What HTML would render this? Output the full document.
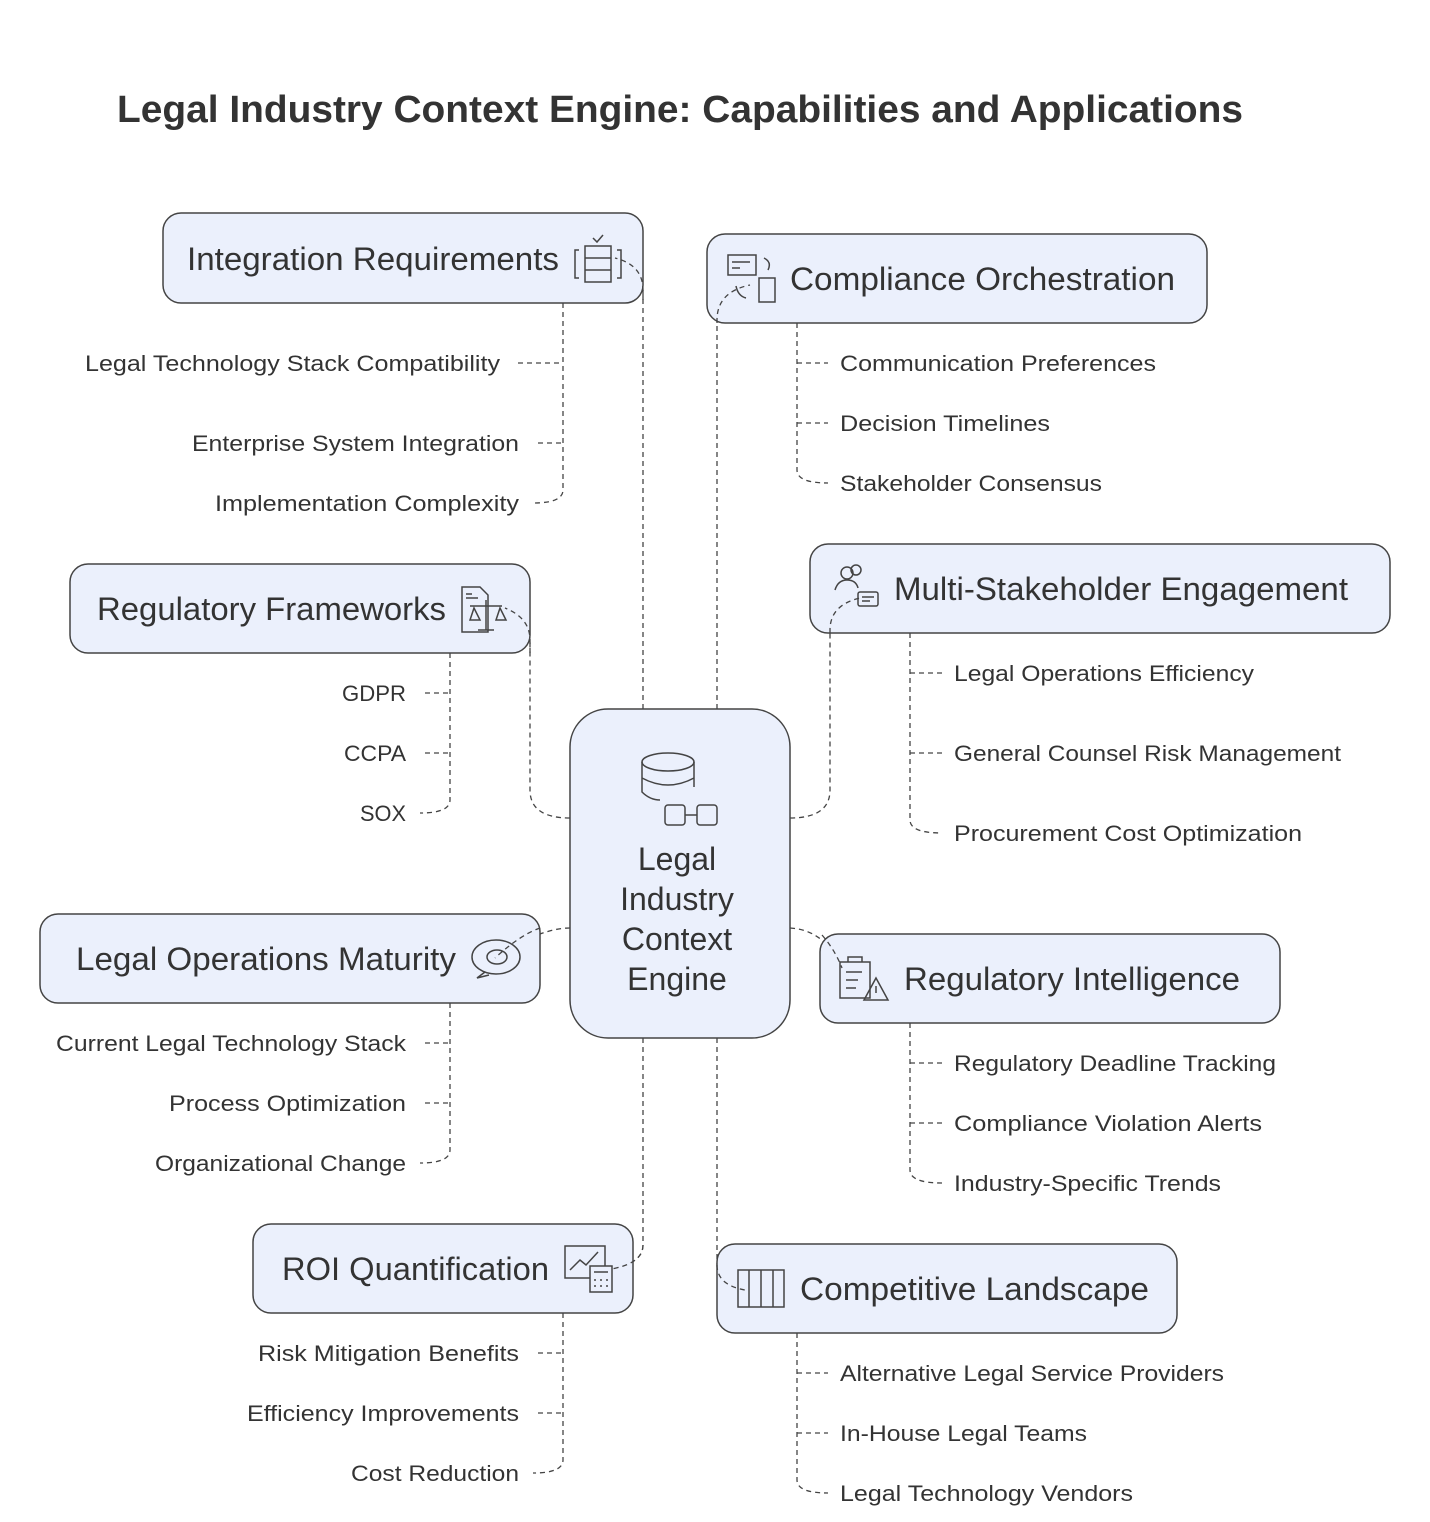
<!DOCTYPE html>
<html><head><meta charset="utf-8"><style>
body{margin:0;background:#fff}
svg{display:block}
text{font-family:"Liberation Sans",sans-serif;fill:#333}
.n{fill:#ebf0fc;stroke:#444;stroke-width:1.5}
.d{fill:none;stroke:#444;stroke-width:1.3;stroke-dasharray:5 4}
.i{fill:none;stroke:#444;stroke-width:1.5}
.t{font-size:32px}
.s{font-size:22px}
</style></head><body>
<svg width="1430" height="1522" viewBox="0 0 1430 1522">
<text x="117" y="122" font-size="38" font-weight="bold" textLength="1126" lengthAdjust="spacingAndGlyphs" style="fill:#333">Legal Industry Context Engine: Capabilities and Applications</text>

<path class="d" d="M643 709 V290 Q643 265 615 258"/>
<path class="d" d="M717 709 V320 Q717 292 750 285"/>
<path class="d" d="M790 818 Q830 818 830 790 V630 Q830 605 860 598"/>
<path class="d" d="M570 818 Q530 818 530 790 V640 Q530 618 505 608"/>
<path class="d" d="M570 928 Q540 928 495 958"/>
<path class="d" d="M790 928 Q825 930 842 968"/>
<path class="d" d="M643 1038 V1245 Q643 1265 605 1270"/>
<path class="d" d="M717 1038 V1265 Q717 1285 745 1290"/>

<path class="d" d="M563 303 V490 Q563 503 533 503 M518 363 H563 M538 443 H563"/>
<path class="d" d="M797 323 V470 Q797 483 828 483 M797 363 H828 M797 423 H828"/>
<path class="d" d="M450 653 V800 Q450 813 420 813 M425 693 H450 M425 753 H450"/>
<path class="d" d="M910 633 V820 Q910 833 942 833 M910 673 H942 M910 753 H942"/>
<path class="d" d="M450 1003 V1150 Q450 1163 420 1163 M425 1043 H450 M425 1103 H450"/>
<path class="d" d="M910 1023 V1170 Q910 1183 942 1183 M910 1063 H942 M910 1123 H942"/>
<path class="d" d="M563 1313 V1460 Q563 1473 533 1473 M538 1353 H563 M538 1413 H563"/>
<path class="d" d="M797 1333 V1480 Q797 1493 828 1493 M797 1373 H828 M797 1433 H828"/>

<rect class="n" x="163" y="213" width="480" height="90" rx="18"/>
<rect class="n" x="707" y="234" width="500" height="89" rx="18"/>
<rect class="n" x="70" y="564" width="460" height="89" rx="18"/>
<rect class="n" x="810" y="544" width="580" height="89" rx="18"/>
<rect class="n" x="40" y="914" width="500" height="89" rx="18"/>
<rect class="n" x="820" y="934" width="460" height="89" rx="18"/>
<rect class="n" x="253" y="1224" width="380" height="89" rx="18"/>
<rect class="n" x="717" y="1244" width="460" height="89" rx="18"/>
<rect class="n" x="570" y="709" width="220" height="329" rx="38"/>

<path class="d" d="M643 300 V290 Q643 265 615 258"/>
<path class="d" d="M717 323 V320 Q717 292 750 285"/>
<path class="d" d="M830 633 V630 Q830 605 860 598"/>
<path class="d" d="M530 653 V640 Q530 618 505 608"/>
<path class="d" d="M540 928 Q520 935 495 958"/>
<path class="d" d="M822 935 Q835 950 842 968"/>
<path class="d" d="M643 1245 Q643 1265 605 1270"/>
<path class="d" d="M717 1265 Q717 1285 745 1290"/>

<g class="t" lengthAdjust="spacingAndGlyphs">
<text x="187" y="270" textLength="372" lengthAdjust="spacingAndGlyphs">Integration Requirements</text>
<text x="790" y="290" textLength="385" lengthAdjust="spacingAndGlyphs">Compliance Orchestration</text>
<text x="97" y="620" textLength="349" lengthAdjust="spacingAndGlyphs">Regulatory Frameworks</text>
<text x="894" y="600" textLength="454" lengthAdjust="spacingAndGlyphs">Multi-Stakeholder Engagement</text>
<text x="76" y="970" textLength="380" lengthAdjust="spacingAndGlyphs">Legal Operations Maturity</text>
<text x="904" y="990" textLength="336" lengthAdjust="spacingAndGlyphs">Regulatory Intelligence</text>
<text x="282" y="1280" textLength="267" lengthAdjust="spacingAndGlyphs">ROI Quantification</text>
<text x="800" y="1300" textLength="349" lengthAdjust="spacingAndGlyphs">Competitive Landscape</text>
</g>
<g class="t" text-anchor="middle">
<text x="677" y="870">Legal</text>
<text x="677" y="910">Industry</text>
<text x="677" y="950">Context</text>
<text x="677" y="990">Engine</text>
</g>

<g class="i">
<ellipse cx="668" cy="762" rx="26" ry="9"/>
<path d="M642 762 V792 Q650 800 660 800 M694 762 V787"/>
<path d="M642 778 Q668 792 694 778"/>
<rect x="665" y="805" width="20" height="20" rx="3"/><rect x="697" y="805" width="20" height="20" rx="3"/><path d="M685 815 H697"/>
<rect x="585" y="246" width="26" height="36"/><path d="M585 258 H611 M585 270 H611 M579 250 H575 V278 H579 M617 250 H621 V278 H617 M593 238 L597 242 L603 235"/>
<rect x="728" y="255" width="28" height="20"/><path d="M732 262 H750 M732 268 H740"/><rect x="759" y="278" width="16" height="24"/><path d="M768 270 Q772 262 764 258 M736 286 Q738 296 746 298"/>
<path d="M462 587 H480 L488 595 V632 H462 Z M466 594 H472 M466 598 H478 M470 606 H502 M486 600 V630 M478 630 H494"/>
<path d="M474 608 L470 620 H480 Z M500 608 L496 620 H506 Z"/>
<circle cx="847" cy="573" r="6"/><path d="M835 590 Q838 580 847 580 Q856 580 858 588"/><circle cx="856" cy="570" r="5"/><rect x="858" y="592" width="20" height="14" rx="2"/><path d="M862 597 H874 M862 601 H870"/>
<ellipse cx="496" cy="957" rx="24" ry="17"/><path d="M485 972 L477 978 L489 975"/><ellipse cx="497" cy="957" rx="10" ry="7"/>
<rect x="840" y="962" width="30" height="36"/><path d="M848 962 V957 H862 V962 M846 972 H862 M846 980 H858 M846 988 H856"/><path d="M876 978 L888 1000 H864 Z M876 986 V993"/>
<rect x="565" y="1246" width="40" height="32"/><path d="M570 1270 L580 1260 L586 1265 L598 1252"/><rect x="590" y="1266" width="22" height="26" fill="#ebf0fc"/><path d="M594 1272 H608 M594 1280 H596 M600 1280 H602 M606 1280 H608 M594 1286 H596 M600 1286 H602 M606 1286 H608"/>
<path d="M738 1270 H784 V1307 H738 Z M749 1270 V1307 M761 1270 V1307 M773 1270 V1307"/>
</g>

<g class="s" text-anchor="end">
<text x="500" y="371" textLength="415" lengthAdjust="spacingAndGlyphs">Legal Technology Stack Compatibility</text>
<text x="519" y="451" textLength="327" lengthAdjust="spacingAndGlyphs">Enterprise System Integration</text>
<text x="519" y="511" textLength="304" lengthAdjust="spacingAndGlyphs">Implementation Complexity</text>
<text x="406" y="701" textLength="64" lengthAdjust="spacingAndGlyphs">GDPR</text>
<text x="406" y="761" textLength="62" lengthAdjust="spacingAndGlyphs">CCPA</text>
<text x="406" y="821" textLength="46" lengthAdjust="spacingAndGlyphs">SOX</text>
<text x="406" y="1051" textLength="350" lengthAdjust="spacingAndGlyphs">Current Legal Technology Stack</text>
<text x="406" y="1111" textLength="237" lengthAdjust="spacingAndGlyphs">Process Optimization</text>
<text x="406" y="1171" textLength="251" lengthAdjust="spacingAndGlyphs">Organizational Change</text>
<text x="519" y="1361" textLength="261" lengthAdjust="spacingAndGlyphs">Risk Mitigation Benefits</text>
<text x="519" y="1421" textLength="272" lengthAdjust="spacingAndGlyphs">Efficiency Improvements</text>
<text x="519" y="1481" textLength="168" lengthAdjust="spacingAndGlyphs">Cost Reduction</text>
</g>
<g class="s">
<text x="840" y="371" textLength="316" lengthAdjust="spacingAndGlyphs">Communication Preferences</text>
<text x="840" y="431" textLength="210" lengthAdjust="spacingAndGlyphs">Decision Timelines</text>
<text x="840" y="491" textLength="262" lengthAdjust="spacingAndGlyphs">Stakeholder Consensus</text>
<text x="954" y="681" textLength="300" lengthAdjust="spacingAndGlyphs">Legal Operations Efficiency</text>
<text x="954" y="761" textLength="387" lengthAdjust="spacingAndGlyphs">General Counsel Risk Management</text>
<text x="954" y="841" textLength="348" lengthAdjust="spacingAndGlyphs">Procurement Cost Optimization</text>
<text x="954" y="1071" textLength="322" lengthAdjust="spacingAndGlyphs">Regulatory Deadline Tracking</text>
<text x="954" y="1131" textLength="308" lengthAdjust="spacingAndGlyphs">Compliance Violation Alerts</text>
<text x="954" y="1191" textLength="267" lengthAdjust="spacingAndGlyphs">Industry-Specific Trends</text>
<text x="840" y="1381" textLength="384" lengthAdjust="spacingAndGlyphs">Alternative Legal Service Providers</text>
<text x="840" y="1441" textLength="247" lengthAdjust="spacingAndGlyphs">In-House Legal Teams</text>
<text x="840" y="1501" textLength="293" lengthAdjust="spacingAndGlyphs">Legal Technology Vendors</text>
</g>
</svg>
</body></html>
